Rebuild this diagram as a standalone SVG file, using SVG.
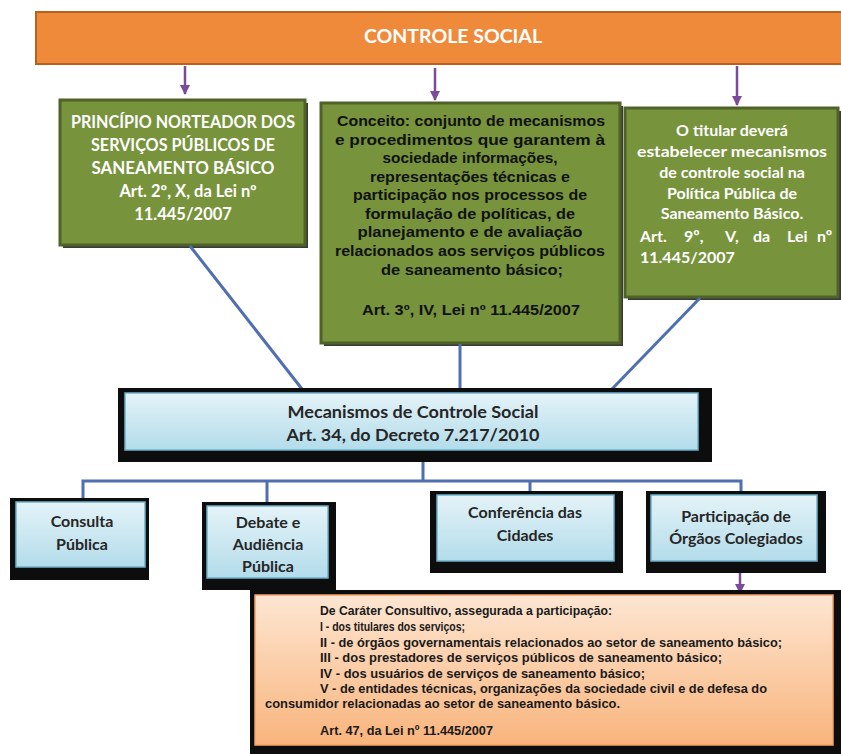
<svg xmlns="http://www.w3.org/2000/svg" width="841" height="754" viewBox="0 0 841 754">
<defs>
<linearGradient id="gBlue" x1="0" y1="0" x2="0" y2="1">
<stop offset="0" stop-color="#e4f3f8"/>
<stop offset="1" stop-color="#b3dcea"/>
</linearGradient>
<linearGradient id="gOrange" x1="0" y1="0" x2="0" y2="1">
<stop offset="0" stop-color="#fde6d2"/>
<stop offset="1" stop-color="#f9b47c"/>
</linearGradient>
<marker id="arr" viewBox="0 0 10 10" refX="9" refY="5" markerWidth="4" markerHeight="4" orient="auto" markerUnits="strokeWidth">
<path d="M0,0 L10,5 L0,10 z" fill="#7a4b9c"/>
</marker>
</defs>
<style>
.green{fill:#77933c;stroke:#4f6228;stroke-width:3}
.gshadow{fill:#3a3a3a}
.frame{fill:#0d0d0d}
.blue{fill:url(#gBlue);stroke:#6fb2c9;stroke-width:1.5}
.cal{font-family:Lato,"Open Sans","Liberation Sans",sans-serif;font-weight:bold}
.ari{font-family:"Liberation Sans",Arial,sans-serif;font-weight:bold}
.w{fill:#ffffff}
.dk{fill:#262626}
.conn{stroke:#4f6fb0;stroke-width:3;fill:none}
.parr{stroke:#7a4b9c;stroke-width:2.5;fill:none;marker-end:url(#arr)}
</style>

<g id="controle-social">
<rect x="36" y="12" width="810" height="52" fill="#f08a3b" stroke="#b9601f" stroke-width="2"/>
<text x="453" y="43" text-anchor="middle" class="cal w" font-size="19.5">CONTROLE SOCIAL</text>
</g>

<g id="principio">
<rect x="63" y="103" width="245" height="145" class="gshadow"/>
<rect x="60" y="100" width="245" height="145" class="green"/>
<g class="cal w" font-size="16.5" text-anchor="middle">
<text x="183" y="128" textLength="224" lengthAdjust="spacingAndGlyphs">PRINCÍPIO NORTEADOR DOS</text>
<text x="183" y="151" textLength="184" lengthAdjust="spacingAndGlyphs">SERVIÇOS PÚBLICOS DE</text>
<text x="183" y="174" textLength="183" lengthAdjust="spacingAndGlyphs">SANEAMENTO BÁSICO</text>
<text x="188" y="197">Art. 2º, X, da Lei nº</text>
<text x="183" y="220">11.445/2007</text>
</g>
</g>

<g id="conceito">
<rect x="324" y="106" width="299" height="240" class="gshadow"/>
<rect x="321" y="103" width="299" height="240" class="green"/>
<g class="ari" font-size="15" fill="#111" text-anchor="middle">
<text x="471" y="126" textLength="268" lengthAdjust="spacingAndGlyphs">Conceito: conjunto de mecanismos</text>
<text x="470" y="145" textLength="270" lengthAdjust="spacingAndGlyphs">e procedimentos que garantem à</text>
<text x="470" y="163" textLength="175" lengthAdjust="spacingAndGlyphs">sociedade informações,</text>
<text x="470" y="182" textLength="200" lengthAdjust="spacingAndGlyphs">representações técnicas e</text>
<text x="470" y="200" textLength="234" lengthAdjust="spacingAndGlyphs">participação nos processos  de</text>
<text x="470" y="219" textLength="210" lengthAdjust="spacingAndGlyphs">formulação de políticas, de</text>
<text x="470" y="237" textLength="225" lengthAdjust="spacingAndGlyphs">planejamento e de avaliação</text>
<text x="470" y="256" textLength="270" lengthAdjust="spacingAndGlyphs">relacionados aos serviços  públicos</text>
<text x="472" y="275" textLength="182" lengthAdjust="spacingAndGlyphs">de saneamento básico;</text>
<text x="471" y="315" textLength="218" lengthAdjust="spacingAndGlyphs">Art. 3º, IV, Lei nº 11.445/2007</text>
</g>
</g>

<g id="titular">
<rect x="628" y="111" width="213" height="189" class="gshadow"/>
<rect x="625" y="108" width="213" height="189" class="green"/>
<g class="cal w" font-size="16">
<text x="732" y="136" text-anchor="middle">O titular deverá</text>
<text x="732" y="157" text-anchor="middle" textLength="190" lengthAdjust="spacingAndGlyphs">estabelecer mecanismos</text>
<text x="732" y="178" text-anchor="middle">de controle social na</text>
<text x="732" y="199" text-anchor="middle">Política Pública de</text>
<text x="732" y="219" text-anchor="middle">Saneamento Básico.</text>
<text y="242"><tspan x="640">Art.</tspan><tspan x="684">9º,</tspan><tspan x="725">V,</tspan><tspan x="753">da</tspan><tspan x="787">Lei</tspan><tspan x="817">nº</tspan></text>
<text x="640" y="263">11.445/2007</text>
</g>
</g>

<g id="connectors">
<line x1="185" y1="66" x2="185" y2="94" class="parr"/>
<line x1="435" y1="68" x2="435" y2="100" class="parr"/>
<line x1="737" y1="66" x2="737" y2="105" class="parr"/>
<line x1="190" y1="246" x2="302" y2="389" class="conn"/>
<line x1="460" y1="344" x2="460" y2="389" class="conn"/>
<line x1="700" y1="298" x2="612" y2="389" class="conn"/>
<line x1="423" y1="450" x2="423" y2="481" class="conn"/>
<polyline points="83,500 83,481 741,481 741,493" class="conn"/>
<line x1="267" y1="481" x2="267" y2="503" class="conn"/>
<line x1="530" y1="481" x2="530" y2="492" class="conn"/>
<line x1="740" y1="561" x2="740" y2="593" class="parr"/>
</g>

<g id="mecanismos">
<rect x="118" y="388" width="594" height="74" class="frame"/>
<rect x="125" y="393" width="573" height="57" class="blue"/>
<g class="cal dk" font-size="17.5" text-anchor="middle">
<text x="413" y="418" textLength="251" lengthAdjust="spacingAndGlyphs">Mecanismos de Controle Social</text>
<text x="413" y="441" textLength="253" lengthAdjust="spacingAndGlyphs">Art. 34, do Decreto 7.217/2010</text>
</g>
</g>

<g id="consulta">
<rect x="10" y="498" width="139" height="82" class="frame"/>
<rect x="16" y="502" width="129" height="65" class="blue"/>
<g class="cal dk" font-size="16" text-anchor="middle">
<text x="82" y="527">Consulta</text>
<text x="82" y="550">Pública</text>
</g>
</g>

<g id="debate">
<rect x="202" y="502" width="134" height="88" class="frame"/>
<rect x="207" y="506" width="121" height="72" class="blue"/>
<g class="cal dk" font-size="16" text-anchor="middle">
<text x="268" y="528">Debate e</text>
<text x="268" y="550">Audiência</text>
<text x="268" y="572">Pública</text>
</g>
</g>

<g id="conferencia">
<rect x="430" y="491" width="193" height="82" class="frame"/>
<rect x="437" y="495" width="177" height="66" class="blue"/>
<g class="cal dk" font-size="16" text-anchor="middle">
<text x="525" y="518">Conferência das</text>
<text x="525" y="541">Cidades</text>
</g>
</g>

<g id="participacao">
<rect x="646" y="491" width="180" height="82" class="frame"/>
<rect x="651" y="495" width="166" height="66" class="blue"/>
<g class="cal dk" font-size="16" text-anchor="middle">
<text x="736" y="522">Participação de</text>
<text x="736" y="544">Órgãos Colegiados</text>
</g>
</g>

<g id="carater">
<rect x="250" y="590" width="595" height="170" class="frame"/>
<rect x="255" y="595" width="578" height="150" fill="url(#gOrange)" stroke="#f2a365" stroke-width="1.5"/>
<g class="ari" font-size="12" fill="#1a1a1a">
<text x="320" y="615" textLength="292" lengthAdjust="spacingAndGlyphs">De Caráter Consultivo, assegurada a participação:</text>
<text x="320" y="631" textLength="145" lengthAdjust="spacingAndGlyphs">I - dos titulares dos serviços;</text>
<text x="320" y="647" textLength="462" lengthAdjust="spacingAndGlyphs">II - de órgãos governamentais relacionados ao setor de saneamento básico;</text>
<text x="320" y="662" textLength="402" lengthAdjust="spacingAndGlyphs">III - dos prestadores de serviços públicos de saneamento básico;</text>
<text x="320" y="678" textLength="325" lengthAdjust="spacingAndGlyphs">IV - dos usuários de serviços de saneamento básico;</text>
<text x="320" y="693" textLength="447" lengthAdjust="spacingAndGlyphs">V - de entidades técnicas, organizações da sociedade civil e de defesa do</text>
<text x="265" y="708" textLength="355" lengthAdjust="spacingAndGlyphs">consumidor relacionadas ao setor de saneamento básico.</text>
<text x="320" y="735" textLength="173" lengthAdjust="spacingAndGlyphs">Art. 47, da Lei nº 11.445/2007</text>
</g>
</g>
</svg>
